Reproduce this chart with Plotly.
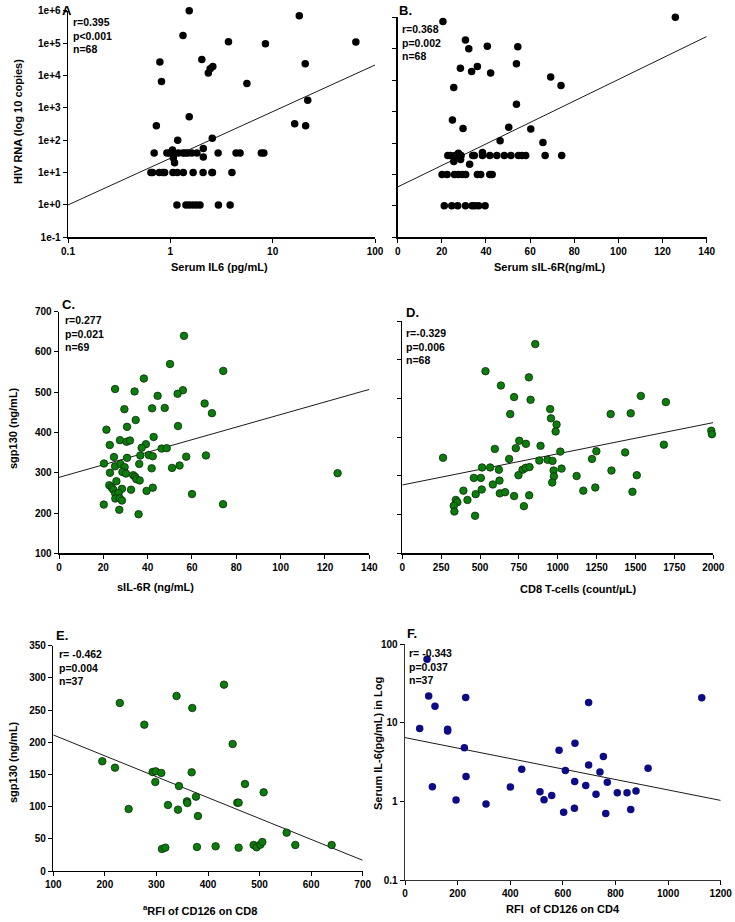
import plotly.graph_objects as go

W, H = 735, 922

# ---------------- DATA ----------------
# Panel A: Serum IL6 (pg/mL) vs HIV RNA
A_il6 = [1.53, 18.2, 65, 1.33, 3.7, 8.5, 0.79, 2.03, 20.8, 2.35, 2.45, 2.6, 0.82, 5.6, 22,
         1.53, 0.73, 16.4, 21, 1.18, 2.57, 2.1, 2.1, 1.05, 1.07, 1.1,
         0.695, 0.925, 0.98, 1.05, 1.20, 1.33, 1.40, 1.48, 1.62, 1.82, 2.93, 4.39, 4.8, 7.75, 8.2,
         0.646, 0.67, 0.78, 0.845, 0.88, 1.06, 1.17, 1.34, 1.67, 2.09, 2.58, 4.0, 2.55,
         1.16, 1.42, 1.53, 1.66, 1.80, 1.95, 2.95, 3.84]
A_rna = [1e6, 7e5, 1.07e5, 1.7e5, 1.1e5, 9.5e4, 2.6e4, 3.1e4, 2.3e4, 1.2e4, 1.6e4, 1.9e4, 6.5e3, 5.6e3, 1.7e3,
         530, 280, 320, 280, 100, 115, 55, 30, 50, 28, 20,
         40, 40, 40, 40, 40, 40, 40, 40, 40, 40, 40, 40, 40, 40, 40,
         10, 10, 10, 10, 10, 10, 10, 10, 10, 10, 10, 10, 10,
         1, 1, 1, 1, 1, 1, 1, 1]
A_fit_x = [0.1, 100]
A_fit_y = [1.0, 2.1e4]

# Panel B: Serum sIL-6R (ng/mL) vs HIV RNA
B_sil6r = [20.5, 125.8, 30.7, 32.2, 40.6, 54.4, 53.8, 28.4, 33.5, 36.1, 42.1, 69.3, 74.0, 25.4, 53.8,
           24.8, 29.6, 50.3, 60.3, 46.4, 65.8, 32.6, 25.4,
           22.7, 23.9, 26.0, 27.8, 28.7, 34.0, 34.7, 38.4, 41.7, 44.9, 48.3, 51.3, 54.7, 56.3, 58.0,
           66.8, 74.3, 38.4, 27.5, 28.5,
           20.1, 22.4, 25.7, 27.5, 29.3, 30.8, 36.1, 37.6, 41.7, 42.8,
           21.1, 24.5, 27.2, 30.7, 33.7, 35.0, 36.7, 39.6]
B_rna = [7.3e5, 1.0e6, 1.9e5, 1.0e5, 1.2e5, 1.15e5, 3.3e4, 2.4e4, 1.9e4, 2.7e4, 1.7e4, 1.26e4, 6.7e3, 5.8e3, 1.7e3,
         540, 290, 318, 280, 117, 103, 21, 26,
         40, 40, 40, 40, 40, 40, 40, 40, 40, 40, 40, 40, 40, 40, 40,
         40, 40, 50, 47, 30,
         10, 10, 10, 10, 10, 10, 10, 10, 10, 10,
         1, 1, 1, 1, 1, 1, 1, 1]
B_fit_x = [0, 140]
B_fit_y = [4.0, 2.45e5]

# Panel C: sIL-6R (ng/mL) vs sgp130 (ng/mL)
C_sil6r = [56.4, 50.1, 74.1, 38.3, 25.3, 34.1, 55.9, 53.5, 44.5, 65.7, 69.0, 29.5, 42.0, 47.7, 34.6,
           30.7, 53.7, 21.4, 22.9, 27.5, 30.5, 32.0, 42.7, 39.2, 37.3, 46.3, 48.6, 36.7, 40.5, 42.3,
           57.4, 66.3, 24.8, 30.7, 20.3, 25.3, 27.7, 29.6, 36.2, 41.8, 51.0, 54.4, 23.0, 28.6, 30.2,
           33.5, 34.3, 34.9, 36.4, 125.7, 25.9, 22.7, 23.8, 42.3, 24.5, 28.4, 32.5, 39.5, 25.4, 26.9,
           60.0, 25.4, 27.4, 28.4, 20.2, 74.0, 27.2, 35.9]
C_sgp130 = [640, 570, 553, 534, 508, 502, 505, 496, 491, 472, 448, 458, 460, 461, 431,
            414, 416, 407, 369, 381, 377, 380, 389, 371, 362, 360, 361, 343, 344, 341,
            340, 343, 339, 337, 323, 316, 322, 314, 322, 311, 312, 318, 300, 302, 298,
            294, 290, 284, 281, 299, 279, 269, 263, 263, 258, 260, 258, 255, 248, 250,
            247, 236, 237, 231, 221, 222, 208, 197]
C_fit_x = [0, 140]
C_fit_y = [288.6, 507]

# Panel D: CD8 T-cells (count/uL) vs sgp130
D_cd8 = [855, 535, 814, 634, 719, 825, 1534, 1695, 951, 694, 956, 1340, 1469, 992, 986,
         1987, 1991, 752, 795, 730, 889, 595, 1682, 1016, 1248, 1433, 262, 687, 881, 934,
         966, 1220, 513, 565, 621, 773, 793, 818, 973, 1024, 1345, 460, 505, 747, 975,
         1121, 1508, 625, 582, 964, 511, 393, 1164, 1241, 472, 627, 661, 719, 816, 1480,
         344, 419, 354, 331, 782, 335, 468]
D_sgp130 = [641, 571, 555, 534, 504, 497, 507, 491, 473, 460, 449, 460, 462, 433, 415,
            417, 408, 391, 383, 372, 378, 370, 381, 363, 364, 361, 347, 344, 340, 342,
            339, 344, 322, 322, 316, 316, 321, 323, 314, 319, 314, 295, 295, 302, 299,
            300, 302, 288, 278, 283, 265, 262, 262, 270, 253, 255, 258, 248, 250, 259,
            238, 238, 232, 223, 222, 208, 197]
D_fit_x = [0, 2000]
D_fit_y = [276.7, 438]

# Panel E: RFI of CD126 on CD8 vs sgp130
E_rfi = [431, 339, 229, 369.5, 276.5, 447.8, 195, 219.6, 292.6, 298.4, 309.4, 368.3, 297.8,
         343.7, 471.7, 507.9, 376.7, 359.2, 360, 456.8, 459.4, 322.4, 246.1, 341.8, 380.5,
         552.5, 569.3, 639.8, 488.5, 494.3, 501.4, 505.3, 414.8, 378.6, 459.4, 310.7, 317.2]
E_sgp130 = [289.5, 271.9, 261, 253.2, 227.3, 197.3, 170.4, 160.5, 153.8, 154.8, 152.3, 153.3, 138.3,
            132, 135.2, 122.2, 115.5, 108.2, 105.6, 106.2, 106.2, 102.5, 96.3, 95.3, 85.4,
            59.6, 40.4, 40.4, 40.4, 36.8, 40.9, 45, 38.3, 37.3, 36.3, 34.2, 36.3]
E_fit_x = [100, 700]
E_fit_y = [211.3, 16.6]

# Panel F: RFI of CD126 on CD4 vs Serum IL-6
F_rfi = [83.7, 90, 230.7, 114, 698, 1128, 55.8, 162, 162, 225.6, 646, 585.6, 754, 698, 741,
         443.6, 609.6, 924, 232, 645, 769, 687, 104, 400.5, 513, 878, 807, 844, 726, 557.7,
         528.5, 194, 308, 644, 858, 603, 763]
F_il6 = [64.4, 22, 21.1, 16.3, 18.1, 20.9, 8.45, 8.3, 7.9, 4.84, 5.5, 4.48, 3.72, 2.91, 2.37,
         2.56, 2.47, 2.64, 2.07, 1.80, 1.75, 1.60, 1.54, 1.53, 1.33, 1.36, 1.29, 1.29, 1.23, 1.19,
         1.05, 1.04, 0.93, 0.82, 0.79, 0.73, 0.70]
F_fit_x = [0, 1200]
F_fit_y = [6.49, 1.03]

# Tick labels
log_vals_rna = [0.1, 1, 10, 100, 1e3, 1e4, 1e5, 1e6]
log_text_rna = ["1e-1", "1e+0", "1e+1", "1e+2", "1e+3", "1e+4", "1e+5", "1e+6"]
A_xvals = [0.1, 1, 10, 100]
A_xtext = ["0.1", "1", "10", "100"]
F_yvals = [0.1, 1, 10, 100]
F_ytext = ["0.1", "1", "10", "100"]

# Texts
stats = {
    "A": "r=0.395<br>p<0.001<br>n=68",
    "B": "r=0.368<br>p=0.002<br>n=68",
    "C": "r=0.277<br>p=0.021<br>n=69",
    "D": "r=-0.329<br>p=0.006<br>n=68",
    "E": "r= -0.462<br>p=0.004<br>n=37",
    "F": "r= -0.343<br>p=0.037<br>n=37",
}

# ---------------- LAYOUT HELPERS ----------------
FONT = "Liberation Sans, Arial, sans-serif"
GREEN = "#0b7d0b"
NAVY = "#0c0c86"


def px_dom(x0, x1, y0, y1):
    return [x0 / W, x1 / W], [1 - y1 / H, 1 - y0 / H]


panels = {
    # name: (x0, x1, ytop, ybottom)
    "A": (68, 375, 10.7, 237.3),
    "B": (397.7, 706.7, 17.3, 237.3),
    "C": (59, 369.3, 311.7, 553.3),
    "D": (402.3, 713.3, 321.3, 553.3),
    "E": (53.3, 362.7, 645.7, 871),
    "F": (405, 720.7, 644.3, 880),
}

fig = go.Figure()

axis_common = dict(
    showline=True, linecolor="black", linewidth=1.4, ticks="outside", ticklen=4,
    tickwidth=1, tickcolor="black", showgrid=False, zeroline=False, automargin=False,
    tickfont=dict(family=FONT, size=10, color="black", weight="bold"),
)

order = ["A", "B", "C", "D", "E", "F"]
data = {
    "A": (A_il6, A_rna, A_fit_x, A_fit_y, "black", None),
    "B": (B_sil6r, B_rna, B_fit_x, B_fit_y, "black", None),
    "C": (C_sil6r, C_sgp130, C_fit_x, C_fit_y, GREEN, "#0a2a0a"),
    "D": (D_cd8, D_sgp130, D_fit_x, D_fit_y, GREEN, "#0a2a0a"),
    "E": (E_rfi, E_sgp130, E_fit_x, E_fit_y, GREEN, "#0a2a0a"),
    "F": (F_rfi, F_il6, F_fit_x, F_fit_y, NAVY, None),
}

for i, k in enumerate(order):
    n = i + 1
    xa = "x" if n == 1 else f"x{n}"
    ya = "y" if n == 1 else f"y{n}"
    xs, ys, fx, fy, col, outline = data[k]
    fig.add_trace(go.Scatter(
        x=fx, y=fy, mode="lines", xaxis=xa, yaxis=ya,
        line=dict(color="black", width=0.9), showlegend=False, hoverinfo="skip"))
    fig.add_trace(go.Scatter(
        x=xs, y=ys, mode="markers", xaxis=xa, yaxis=ya, cliponaxis=False,
        marker=dict(size=7.5, color=col,
                    line=dict(color=outline if outline else col, width=0.8 if outline else 0)),
        showlegend=False))

layout_axes = {}
# Axis specs
specs = {
    "A": (dict(type="log", range=[-1, 2], tickvals=A_xvals, ticktext=A_xtext),
          dict(type="log", range=[-1, 6], tickvals=log_vals_rna, ticktext=log_text_rna)),
    "B": (dict(range=[0, 140], tick0=0, dtick=20),
          dict(type="log", range=[-1, 6], tickvals=log_vals_rna, showticklabels=False)),
    "C": (dict(range=[0, 140], tick0=0, dtick=20),
          dict(range=[100, 700], tick0=100, dtick=100)),
    "D": (dict(range=[0, 2000], tick0=0, dtick=250),
          dict(range=[100, 700], tick0=100, dtick=100, showticklabels=False)),
    "E": (dict(range=[100, 700], tick0=100, dtick=100),
          dict(range=[0, 350], tick0=0, dtick=50)),
    "F": (dict(range=[0, 1200], tick0=0, dtick=200),
          dict(type="log", range=[-1, 2], tickvals=F_yvals, ticktext=F_ytext)),
}

for i, k in enumerate(order):
    n = i + 1
    xd, yd = px_dom(*panels[k])
    xs, ysp = specs[k]
    xname = "xaxis" if n == 1 else f"xaxis{n}"
    yname = "yaxis" if n == 1 else f"yaxis{n}"
    xa_id = "x" if n == 1 else f"x{n}"
    ya_id = "y" if n == 1 else f"y{n}"
    lc = "#333333" if k == "F" else "black"
    xc = dict(axis_common); xc.update(xs); xc.update(domain=xd, anchor=ya_id, linecolor=lc)
    yc = dict(axis_common); yc.update(ysp); yc.update(domain=yd, anchor=xa_id, linecolor=lc)
    layout_axes[xname] = xc
    layout_axes[yname] = yc

fig.update_layout(**layout_axes)

annotations = []


def txt(x, y, s, size=11, xanchor="center", yanchor="middle", angle=0, align="center"):
    annotations.append(dict(
        x=x / W, y=1 - y / H, xref="paper", yref="paper", text=s, showarrow=False,
        xanchor=xanchor, yanchor=yanchor, textangle=angle, align=align,
        font=dict(family=FONT, size=size, color="black", weight="bold")))


# Axis titles
txt(219, 267, "Serum IL6 (pg/mL)")
txt(18, 122, "HIV RNA (log 10 copies)", angle=-90)
txt(550, 267, "Serum sIL-6R(ng/mL)")
txt(155, 587, "sIL-6R (ng/mL)")
txt(13, 428, "sgp130 (ng/mL)", angle=-90)
txt(578, 589, "CD8 T-cells (count/μL)")
txt(200, 910, "<sup>a</sup>RFI of CD126 on CD8")
txt(13, 762, "sgp130 (ng/mL)", angle=-90)
txt(563, 909, "RFI\u00a0\u00a0of CD126 on CD4")
txt(378, 743, "Serum IL-6(pg/mL) in Log", angle=-90)

# Panel letters
txt(60, 10, "A", size=13, xanchor="left")
txt(397, 10, "B.", size=13, xanchor="left")
txt(60, 304, "C.", size=13, xanchor="left")
txt(404, 312, "D.", size=13, xanchor="left")
txt(54, 635, "E.", size=13, xanchor="left")
txt(405, 633, "F.", size=13, xanchor="left")

# Stats
stat_pos = {"A": (71, 36), "B": (400, 43), "C": (63, 333), "D": (404, 346),
            "E": (57, 667), "F": (407, 666)}
for k, (x, y) in stat_pos.items():
    txt(x, y, stats[k], size=10.5, xanchor="left", align="left")

fig.update_layout(
    width=W, height=H, margin=dict(l=0, r=0, t=0, b=0),
    paper_bgcolor="white", plot_bgcolor="white",
    annotations=annotations, showlegend=False, hovermode=False,
    font=dict(family=FONT, color="black"),
)

fig.write_html(
    "out.html",
    config={"displayModeBar": False, "staticPlot": True},
    post_script="document.body.style.margin='0';document.body.style.overflow='hidden';",
)
